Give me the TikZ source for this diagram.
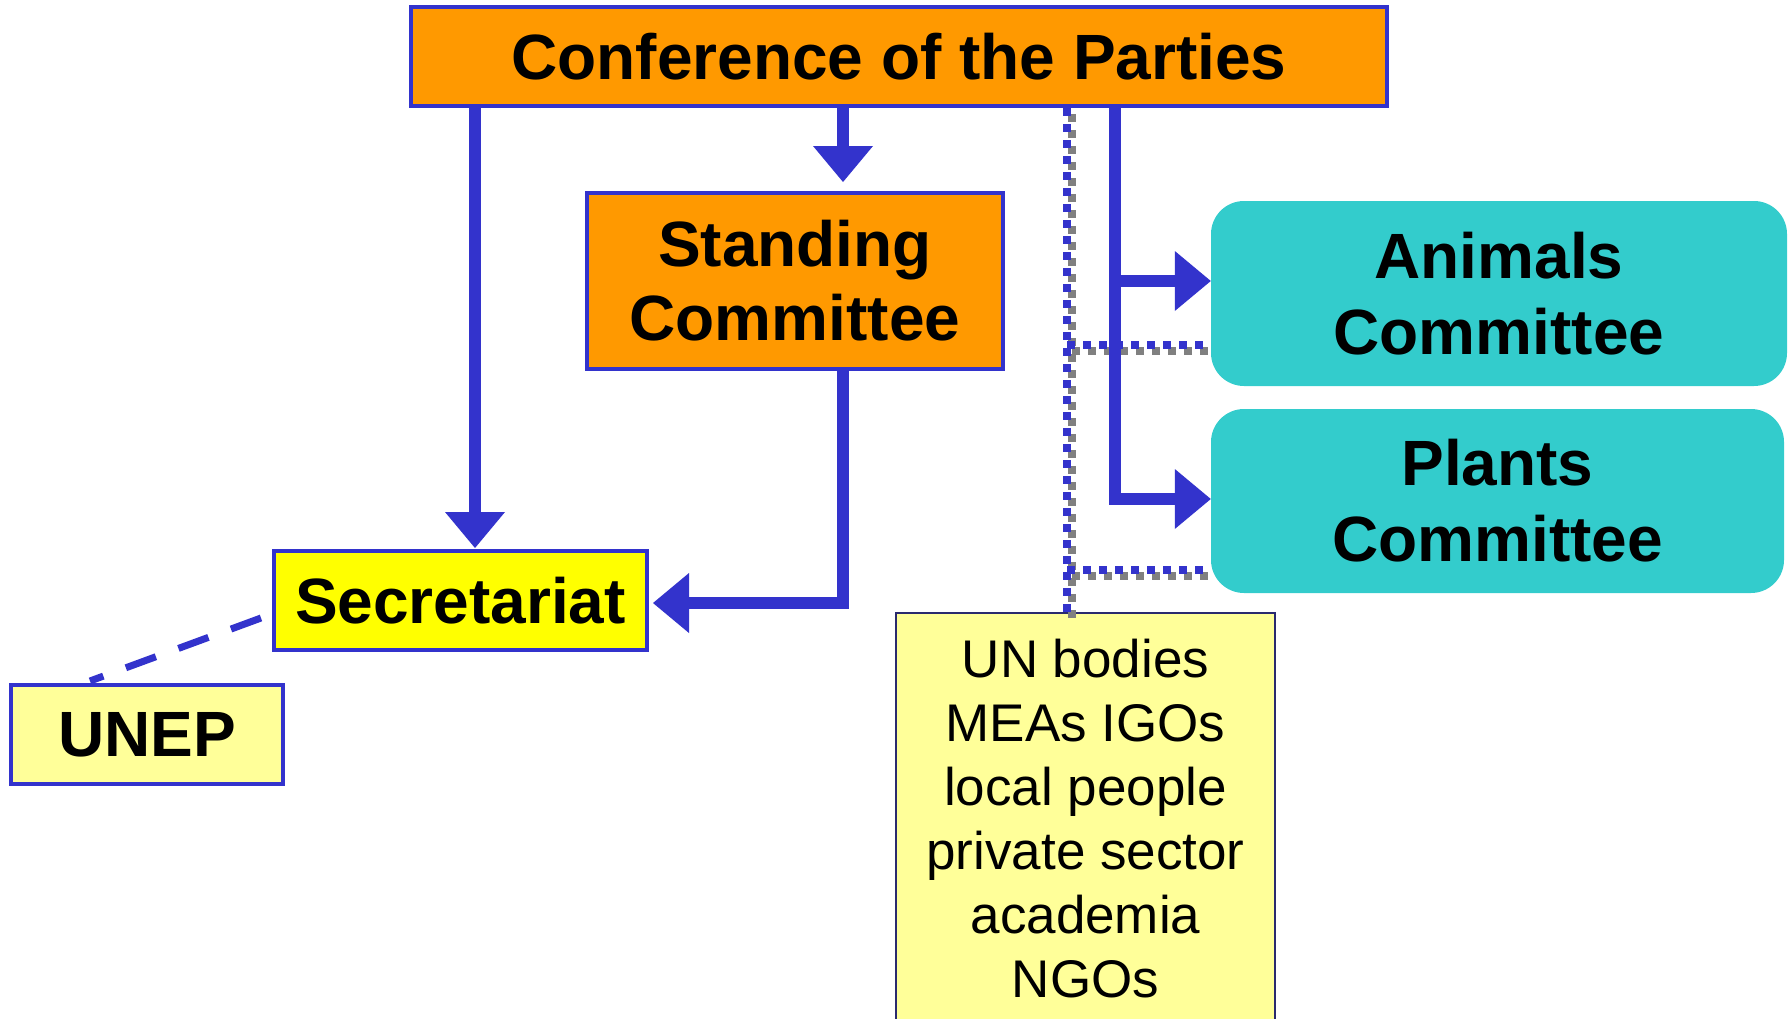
\documentclass[tikz,border=0pt]{standalone}
\usepackage{fontspec}
\setmainfont{Liberation Sans}
\usetikzlibrary{arrows.meta}

\definecolor{linkblue}{HTML}{3333CC}
\definecolor{coporange}{HTML}{FF9900}
\definecolor{cteal}{HTML}{33CCCC}
\definecolor{secyellow}{HTML}{FFFF00}
\definecolor{paleyellow}{HTML}{FFFF99}
\definecolor{notesedge}{HTML}{2A2A6E}
\definecolor{shadowgray}{HTML}{808080}

\tikzset{
  orgbox/.style={draw=linkblue, line width=4pt, inner sep=0pt, align=center,
    font=\bfseries\fontsize{64}{74}\selectfont},
  tealbox/.style={fill=cteal, rounded corners=33pt, inner sep=0pt, align=center,
    font=\bfseries\fontsize{64}{76}\selectfont},
  link/.style={draw=linkblue, line width=12pt, line join=miter,
    -{Triangle[length=36pt,width=60pt,line width=0pt]}},
  observer/.style={line width=8pt, dash pattern=on 8pt off 8pt},
  unepline/.style={draw=linkblue, line width=7pt, dash pattern=on 32pt off 24pt},
}

\begin{document}
\begin{tikzpicture}[x=1pt, y=-1pt]
\useasboundingbox (0,0) rectangle (1791,1018);

% boxes
\node[orgbox, fill=coporange, minimum width=976pt, minimum height=99pt]
  (cop) at (899,56.5) {Conference of the Parties};
\node[orgbox, fill=coporange, minimum width=416pt, minimum height=176pt]
  (standing) at (795,281) {Standing\\Committee};
\node[tealbox, minimum width=576pt, minimum height=185pt]
  (animals) at (1499,293.5) {Animals\\Committee};
\node[tealbox, minimum width=573pt, minimum height=184pt]
  (plants) at (1497.5,501) {Plants\\Committee};
\node[orgbox, fill=secyellow, minimum width=373pt, minimum height=99pt]
  (secr) at (460.5,600.5) {Secretariat};
\node[orgbox, fill=paleyellow, minimum width=272pt, minimum height=99pt]
  (unep) at (147,734.5) {UNEP};
\node[draw=notesedge, line width=1.5pt, fill=paleyellow, inner sep=0pt,
  minimum width=379pt, minimum height=411pt, align=center,
  font=\fontsize{53}{64}\selectfont]
  (notes) at (1085.5,818.5)
  {UN bodies\\MEAs IGOs\\local people\\private sector\\academia\\NGOs};

% helper columns and branch points
\coordinate (lcol) at (475,0);
\coordinate (mcol) at (843,0);
\coordinate (rcol) at (1115,0);
\coordinate (dcol) at (1067,0);
\coordinate (abranch) at ([yshift=12.5pt]animals.west);
\coordinate (pbranch) at ([yshift=2pt]plants.west);
\coordinate (sentry) at ([xshift=4pt,yshift=-2.5pt]secr.east);
\coordinate (adot) at ([yshift=-51.5pt]animals.west);
\coordinate (pdot) at ([yshift=-68.5pt]plants.west);

% observer links: shadow first, then the blue dots
\begin{scope}[transform canvas={shift={(5pt,-6pt)}}]
  \draw[observer, draw=shadowgray] (cop.south -| dcol) -- (dcol |- notes.north);
  \draw[observer, draw=shadowgray] (dcol |- adot) -- (adot);
  \draw[observer, draw=shadowgray] (dcol |- pdot) -- (pdot);
\end{scope}
\draw[observer, draw=linkblue] (cop.south -| dcol) -- (dcol |- notes.north);
\draw[observer, draw=linkblue] (dcol |- adot) -- (adot);
\draw[observer, draw=linkblue] (dcol |- pdot) -- (pdot);

% reporting lines
\draw[link] (cop.south -| lcol) -- ([yshift=1pt]lcol |- secr.north);
\draw[link] (cop.south -| mcol) -- ([yshift=9pt]mcol |- standing.north);
\draw[link] (standing.south -| mcol) |- (sentry);
\draw[link] (cop.south -| rcol) |- (pbranch);
\draw[link] (rcol |- abranch) -- (abranch);

% UNEP hosting link
\draw[unepline] ([xshift=-11pt,yshift=-17.5pt]secr.west) -- ([xshift=-57pt,yshift=2pt]unep.north);
\end{tikzpicture}
\end{document}
